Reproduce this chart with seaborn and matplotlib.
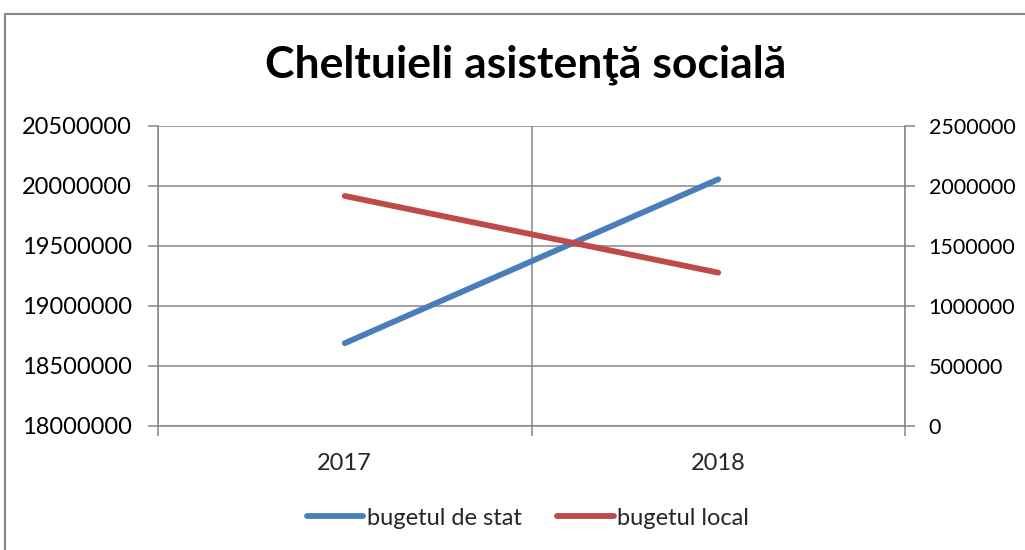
import matplotlib
matplotlib.use('Agg')
import pandas as pd
import seaborn as sns
import matplotlib.pyplot as plt
from matplotlib.patches import Rectangle

years = ['2017', '2018']
bugetul_de_stat = [18690000, 20056000]
bugetul_local = [1917000, 1278000]
left_ticks = [18000000, 18500000, 19000000, 19500000, 20000000, 20500000]
right_ticks = [0, 500000, 1000000, 1500000, 2000000, 2500000]

sns.set_style('white')
plt.rcParams['font.family'] = ['Lato', 'DejaVu Sans']

grid_col = '#868686'
blue = '#4A7EBB'
red = '#BE4B48'

fig = plt.figure(figsize=(10.25, 5.5), dpi=100)
ax = fig.add_axes([158/1025, 124/550, (905-158)/1025, 300/550])
ax2 = ax.twinx()

df = pd.DataFrame({'an': years, 'stat': bugetul_de_stat, 'local': bugetul_local})
sns.lineplot(data=df, x='an', y='stat', ax=ax, color=blue, linewidth=4.2,
             label='bugetul de stat', legend=False, solid_capstyle='round')
sns.lineplot(data=df, x='an', y='local', ax=ax2, color=red, linewidth=4.2,
             label='bugetul local', legend=False, solid_capstyle='round')

ax.set_xlim(-0.5, 1.5)
ax.set_ylim(left_ticks[0], left_ticks[-1])
ax2.set_ylim(right_ticks[0], right_ticks[-1])
ax.set_yticks(left_ticks)
ax.set_yticklabels([str(v) for v in left_ticks])
ax2.set_yticks(right_ticks)
ax2.set_yticklabels([str(v) for v in right_ticks])
ax.set_xticks([0, 1])
ax.set_xticklabels(years)
ax.set_xticks([-0.5, 0.5, 1.5], minor=True)
ax.set_xlabel('')
ax.set_ylabel('')
ax2.set_ylabel('')

ax.grid(True, axis='y', color=grid_col, linewidth=1.1)
ax.grid(True, axis='x', which='minor', color=grid_col, linewidth=1.1)
ax.set_axisbelow(True)

for a in (ax, ax2):
    for s in a.spines.values():
        s.set_visible(False)
ax.spines['left'].set_visible(True)
ax.spines['bottom'].set_visible(True)
ax2.spines['right'].set_visible(True)
for s in (ax.spines['left'], ax.spines['bottom'], ax2.spines['right']):
    s.set_color(grid_col)
    s.set_linewidth(1.1)

ax.tick_params(axis='y', left=True, length=7, width=1.1, color=grid_col,
               labelsize=17, pad=12, labelcolor='black')
ax2.tick_params(axis='y', right=True, length=7, width=1.1, color=grid_col,
                labelsize=15.5, pad=10, labelcolor='black')
ax.tick_params(axis='x', which='major', bottom=False, labelsize=17, pad=16)
ax.tick_params(axis='x', which='minor', bottom=True, length=7, width=1.1, color=grid_col)

fig.text(0.513, 0.882, 'Cheltuieli asistenţă socială', ha='center', va='center',
         fontsize=32, fontweight='bold', color='black')

h1, l1 = ax.get_legend_handles_labels()
h2, l2 = ax2.get_legend_handles_labels()
fig.legend(h1 + h2, l1 + l2, loc='center', bbox_to_anchor=(0.515, 0.058), ncol=2,
           frameon=False, fontsize=17, handlelength=2.4, handletextpad=0.15,
           columnspacing=1.5)

fig.add_artist(Rectangle((4.5/1025, -0.1), 1.1, (1 - 13.5/550) + 0.1,
                         transform=fig.transFigure, fill=False,
                         edgecolor=grid_col, linewidth=1.5, clip_on=False))

fig.savefig('out.png', dpi=100)
